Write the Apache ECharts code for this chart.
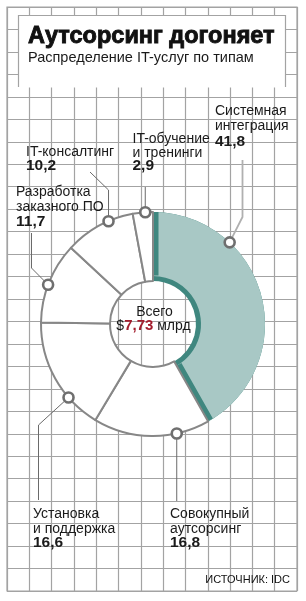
<!DOCTYPE html>
<html>
<head>
<meta charset="utf-8">
<script src="https://cdn.jsdelivr.net/npm/echarts@6/dist/echarts.min.js"></script>
<style>
  html, body { margin: 0; padding: 0; background: #fff; }
  #chart { width: 306px; height: 601px; }
</style>
</head>
<body>
<div id="chart"></div>
<script>
  // распределение IT-услуг по типам, % (IDC)
  var categories = ['Системная интеграция', 'Совокупный аутсорсинг', 'Установка и поддержка',
                    'Разработка заказного ПО', 'IT-консалтинг', 'IT-обучение и тренинги'];
  var shares = [41.8, 16.8, 16.6, 11.7, 10.2, 2.9];
  var labelNames = [['Системная', 'интеграция'], ['Совокупный', 'аутсорсинг'], ['Установка', 'и поддержка'],
                    ['Разработка', 'заказного ПО'], ['IT-консалтинг'], ['IT-обучение', 'и тренинги']];
  var totalText = '7,73';

  // оформление
  var CX = 153, CY = 324, R0 = 43, R1 = 112, BAND = 5;
  var gridColor = '#a3a3a3';
  var ringColor = '#878787';
  var tealLight = '#a8c8c5';
  var tealDark = '#3f877f';
  var FONT = '"Liberation Sans", Arial, sans-serif';

  // где кружки-выноски сидят на кольце (в % оборота) и куда идут линии
  var markerAt = [12, 46.6, 63.6, 80.7, 93.5, 98.9];
  var leaders = [
    [[242.5, 217], [242.5, 160]],
    [[null, 501]],
    [[38.5, 425], [38.5, 500]],
    [[31.5, 268], [31.5, 233]],
    [[null, 190], [90, 172]],
    [[null, 187]]
  ];
  // x, базовая линия первой строки, интерлиньяж
  var labelPos = [[215, 116, 15.5], [170, 519.5, 14.3], [33, 519.5, 14.3],
                  [16, 196.7, 15], [26, 157, 14.3], [132.5, 144.5, 13.5]];

  var sum = 0;
  for (var i = 0; i < shares.length; i++) sum += shares[i];
  var theta = shares[0] / sum * Math.PI * 2;
  var rIn = R0 + BAND;
  // темная кайма только по радиальным краям сектора
  var tealDash = [0, R1 * theta, R1 - rIn, rIn * theta, R1 - rIn + 2, 10000];

  function pieData(fn) {
    var out = [];
    for (var i = 0; i < shares.length; i++) {
      out.push({ name: categories[i], value: shares[i], itemStyle: fn(i) });
    }
    return out;
  }
  var none = { color: 'rgba(0,0,0,0)', borderWidth: 0 };
  var pieBase = {
    type: 'pie', center: [CX, CY], startAngle: 90, clockwise: true,
    silent: true, avoidLabelOverlap: false,
    label: { show: false }, labelLine: { show: false },
    emphasis: { disabled: true }
  };

  var myChart = echarts.init(document.getElementById('chart'));
  var option = {
    animation: false,
    grid: { left: 7, top: 7, width: 290, height: 584, show: true, borderColor: gridColor, borderWidth: 1.2 },
    xAxis: {
      type: 'value', min: 0, max: 13, interval: 1,
      axisLine: { show: false }, axisTick: { show: false }, axisLabel: { show: false },
      splitLine: { lineStyle: { color: gridColor, width: 1.2 } }
    },
    yAxis: {
      type: 'value', min: 0, max: 26, interval: 1,
      axisLine: { show: false }, axisTick: { show: false }, axisLabel: { show: false },
      splitLine: { lineStyle: { color: gridColor, width: 1.2 } }
    },
    polar: { center: [CX, CY], radius: R1 },
    angleAxis: { type: 'value', min: 0, max: 100, startAngle: 90, clockwise: true, show: false },
    radiusAxis: { type: 'value', min: 0, max: 1, show: false },
    series: [
      { type: 'scatter', data: [] },
      Object.assign({}, pieBase, {
        radius: [R0, R1], z: 2,
        data: pieData(function (i) { return i === 0 ? { color: tealDark, borderWidth: 0 } : none; })
      }),
      Object.assign({}, pieBase, {
        radius: [rIn, R1], z: 3,
        data: pieData(function (i) {
          return i === 0 ? { color: tealLight, borderColor: tealDark, borderWidth: BAND * 2 + 1, borderType: tealDash } : none;
        })
      }),
      Object.assign({}, pieBase, {
        radius: [R0, R1], z: 4,
        data: pieData(function (i) {
          return i === 0 ? none : { color: '#fff', borderColor: ringColor, borderWidth: 2 };
        })
      }),
      {
        type: 'scatter', coordinateSystem: 'polar', z: 10, silent: true,
        symbol: 'circle', symbolSize: 10,
        itemStyle: { color: '#fff', borderColor: '#6f6f6f', borderWidth: 2.6, opacity: 1 },
        data: markerAt.map(function (a) { return [1, a]; })
      }
    ]
  };
  myChart.setOption(option);

  function txt(x, baseline, text, size, weight, color, align) {
    return {
      type: 'text', z: 20, x: x, y: baseline - size * 0.35,
      style: {
        text: text, fill: color || '#1a1a1a', align: align || 'left', verticalAlign: 'middle',
        font: (weight || 'normal') + ' ' + size + 'px ' + FONT
      }
    };
  }

  var graphics = [
    { type: 'rect', z: 5, shape: { x: 18.5, y: 15.5, width: 267, height: 72 }, style: { fill: '#fff' } },
    { type: 'polyline', z: 6, shape: { points: [[18.5, 87], [18.5, 15.5], [285.5, 15.5], [285.5, 87]] },
      style: { stroke: gridColor, lineWidth: 1.2, fill: null } },
    {
      type: 'text', z: 20, x: 28, y: 44.5 - 23.5 * 0.35,
      style: { text: 'Аутсорсинг догоняет', fill: '#111', font: 'bold 23.5px ' + FONT,
               verticalAlign: 'middle', stroke: '#111', lineWidth: 0.9 }
    },
    txt(28, 63, 'Распределение IT-услуг по типам', 14.5),
    txt(290, 583.5, 'ИСТОЧНИК: IDC', 11, 'normal', '#111', 'right'),
    txt(154.5, 317, 'Всего', 14, 'normal', '#1a1a1a', 'center'),
    {
      type: 'text', z: 20, x: 153.5, y: 331 - 14 * 0.35,
      style: {
        text: '{a|$}{b|' + totalText + '}{a| млрд}', align: 'center', verticalAlign: 'middle',
        rich: {
          a: { font: '14px ' + FONT, fill: '#1a1a1a' },
          b: { font: 'bold 15px ' + FONT, fill: '#a31d2d' }
        }
      }
    }
  ];

  for (var k = 0; k < categories.length; k++) {
    var p = myChart.convertToPixel({ seriesIndex: 4 }, [1, markerAt[k]]);
    var pts = [p];
    leaders[k].forEach(function (b) { pts.push([b[0] === null ? p[0] : b[0], b[1]]); });
    graphics.push({
      type: 'polyline', z: 8, shape: { points: pts },
      style: { stroke: k === 0 ? '#b0b0b0' : '#6a6a6a', lineWidth: k === 0 ? 1.8 : 1, fill: null }
    });
    var lp = labelPos[k];
    var names = labelNames[k];
    for (var j = 0; j < names.length; j++) {
      graphics.push(txt(lp[0], lp[1] + j * lp[2], names[j], 14));
    }
    graphics.push(txt(lp[0], lp[1] + names.length * lp[2], String(shares[k]).replace('.', ','), 15.5, 'bold', '#1a1a1a'));
  }

  myChart.setOption({ graphic: { elements: graphics } });
</script>
</body>
</html>
